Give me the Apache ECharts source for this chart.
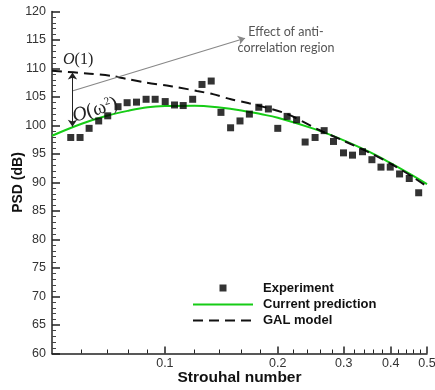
<!DOCTYPE html>
<html>
<head>
<meta charset="utf-8">
<script src="https://cdn.jsdelivr.net/npm/echarts@6/dist/echarts.min.js"></script>
<style>html,body{margin:0;padding:0;background:#fff}#c{width:435px;height:390px}</style>
</head>
<body>
<div id="c"></div>
<script>
// Experiment (Strouhal number, PSD dB)
const stExp = [0.0561,0.0594,0.0628,0.0666,0.0704,0.0750,0.0793,0.0840,0.0891,0.0942,0.1002,0.1061,0.1119,0.1186,0.1256,0.1329,0.1411,0.1497,0.1586,0.1680,0.1780,0.1888,0.2000,0.2118,0.2245,0.2366,0.2515,0.2659,0.2816,0.2994,0.3165,0.3365,0.3565,0.3769,0.3990,0.4225,0.4484,0.4751];
const psdExp = [97.9,97.9,99.5,100.8,101.7,103.3,104.0,104.1,104.6,104.6,104.2,103.6,103.5,104.6,107.2,107.8,102.3,99.6,100.8,102.0,103.2,102.9,99.5,101.6,101.0,97.1,97.9,99.1,97.2,95.2,94.8,95.4,94.0,92.7,92.7,91.5,90.7,88.2];
// Current prediction
const stPred = [0.05,0.06,0.07,0.08,0.09,0.10,0.12,0.14,0.16,0.18,0.20,0.25,0.30,0.35,0.40,0.45,0.50];
const psdPred = [98.2,100.3,101.7,102.6,103.2,103.4,103.45,103.15,102.65,102.0,101.35,99.4,97.4,95.4,93.4,91.5,89.7];
// GAL model
const stGal = [0.05,0.0631,0.0722,0.0787,0.0895,0.1012,0.1083,0.1218,0.1343,0.150,0.1677,0.2104,0.2563,0.30,0.35,0.40,0.45,0.50];
const psdGal = [109.6,109.1,108.7,108.2,107.5,107.0,106.7,106.05,105.5,104.6,103.9,102.1,99.3,97.3,95.3,93.3,91.3,89.3];
// Axis ticks
const xMajorTicks = [0.1,0.2,0.3,0.4,0.5];
const xMinorTicks = [0.06,0.07,0.08,0.09,0.12,0.14,0.16,0.18,0.22,0.24,0.26,0.28,0.32,0.34,0.36,0.38,0.42,0.44,0.46,0.48];
const yMin = 60, yMax = 120, yStep = 5;
// Annotation anchors (data coords)
const arrowO = [[0.0567,109.3],[0.0567,99.8]];
const arrowEffect = [[0.0569,106.1],[0.1636,115.3]];

const zip = (a,b) => a.map((v,i)=>[v,b[i]]);
const chart = echarts.init(document.getElementById('c'));
const gridRect = {left:52, right:8, top:11.5, bottom:36.5, containLabel:false, outerBoundsMode:'none'};
const hiddenSym = {color:'rgba(0,0,0,0)', borderColor:'rgba(0,0,0,0)', borderWidth:0};
chart.setOption({
  animation:false,
  grid:[Object.assign({},gridRect),Object.assign({},gridRect)],
  legend:{
    orient:'vertical', left:187, top:276, itemWidth:60, itemHeight:14, itemGap:3,
    data:[
      {name:'Experiment', icon:'path://M0,0M14,14M3.5,3.5h7v7h-7z'},
      {name:'Current prediction', itemStyle:hiddenSym},
      {name:'GAL model', itemStyle:hiddenSym}
    ],
    textStyle:{fontFamily:'Liberation Sans', fontWeight:'bold', fontSize:13, color:'#111', padding:[0,0,0,5]}
  },
  xAxis:[{
    type:'log', logBase:10, min:0.05, max:0.5, gridIndex:0,
    name:'Strouhal number', nameLocation:'middle', nameGap:16, nameMoveOverlap:false,
    nameTextStyle:{fontFamily:'Liberation Sans', fontWeight:'bold', fontSize:15.5, color:'#111'},
    axisLine:{lineStyle:{color:'#222', width:1.5}},
    axisTick:{inside:true, length:7, customValues:xMajorTicks, lineStyle:{color:'#222', width:1.5}},
    axisLabel:{customValues:xMajorTicks, margin:4, fontFamily:'Liberation Sans', fontSize:12.5, color:'#333', formatter:v=>String(+(+v).toPrecision(3))},
    splitLine:{show:false}, minorTick:{show:false}
  },{
    type:'log', logBase:10, min:0.05, max:0.5, gridIndex:1,
    axisLine:{show:false},
    axisTick:{inside:true, length:4, customValues:xMinorTicks, lineStyle:{color:'#222', width:1}},
    axisLabel:{show:false}, splitLine:{show:false}
  }],
  yAxis:[{
    type:'value', min:yMin, max:yMax, interval:yStep, gridIndex:0,
    name:'PSD (dB)', nameLocation:'middle', nameGap:27, nameMoveOverlap:false,
    nameTextStyle:{fontFamily:'Liberation Sans', fontWeight:'bold', fontSize:14, color:'#111'},
    axisLine:{show:true, lineStyle:{color:'#222', width:1.5}},
    axisTick:{show:true, inside:true, length:8, lineStyle:{color:'#222', width:1.5}},
    minorTick:{show:true, splitNumber:5, length:4, lineStyle:{color:'#444', width:1}},
    axisLabel:{margin:6, fontFamily:'Liberation Sans', fontSize:12.5, color:'#333'},
    splitLine:{show:false}
  },{
    type:'value', min:yMin, max:yMax, gridIndex:1, show:false
  }],
  series:[{
    name:'Current prediction', type:'line', data:zip(stPred,psdPred), smooth:0.4, symbol:'none',
    lineStyle:{color:'#16cc16', width:2}, itemStyle:{color:'#16cc16'}, z:2
  },{
    name:'GAL model', type:'line', data:zip(stGal,psdGal), smooth:0.3, symbol:'none',
    lineStyle:{color:'#111', width:2, type:[10,6]}, itemStyle:{color:'#111'}, z:3
  },{
    name:'Experiment', type:'scatter', data:zip(stExp,psdExp), symbol:'rect', symbolSize:7,
    itemStyle:{color:'#000'}, z:4,
    markLine:{
      silent:true, animation:false, label:{show:false}, symbolSize:7,
      data:[
        [{coord:arrowO[0], symbol:'arrow', lineStyle:{color:'#222', width:1, type:'solid'}},{coord:arrowO[1], symbol:'arrow'}],
        [{coord:arrowEffect[0], symbol:'none', lineStyle:{color:'#888', width:1.2, type:'solid'}},{coord:arrowEffect[1], symbol:'arrow'}]
      ]
    }
  }],
  graphic:[
    {type:'text', left:63, top:52, z:10, style:{text:'{i|O}(1)', rich:{i:{fontStyle:'italic', fontFamily:'Liberation Serif', fontSize:16, fill:'#222'}}, fontFamily:'Liberation Serif', fontSize:16, fill:'#222'}},
    {type:'text', x:73, y:117, rotation:0.3, z:10, style:{text:'{i|O}(ω{s|2})', verticalAlign:'middle', rich:{i:{fontStyle:'italic', fontFamily:'Liberation Serif', fontSize:20, fill:'#222'}, s:{fontSize:11, fontFamily:'Liberation Serif', verticalAlign:'top', fill:'#222', padding:[0,0,9,0]}}, fontFamily:'Liberation Serif', fontSize:20, fill:'#222'}},
    {type:'text', x:286, y:24, z:10, style:{text:'Effect of anti-\ncorrelation region', align:'center', fontFamily:'Lato', fontSize:12.5, lineHeight:16, fill:'#555'}}
  ]
});
</script>
</body>
</html>
